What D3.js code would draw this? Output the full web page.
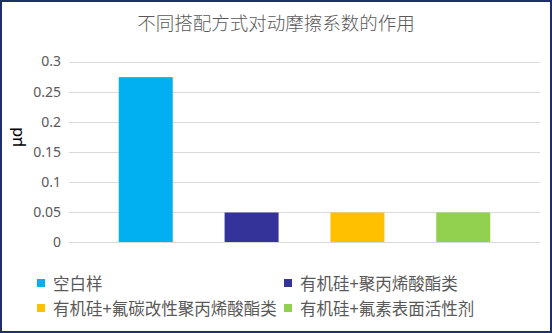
<!DOCTYPE html>
<html><head><meta charset="utf-8">
<script src="https://cdn.jsdelivr.net/npm/d3@7"></script>
<style>
html,body{margin:0;padding:0;background:#fff;}
svg{display:block;}
text{font-family:"Noto Sans CJK SC","Noto Sans",sans-serif;}
</style></head>
<body>
<svg id="c" width="552" height="333"></svg>
<script>
const categories = ["空白样","有机硅+聚丙烯酸酯类","有机硅+氟碳改性聚丙烯酸酯类","有机硅+氟素表面活性剂"];
const values = [0.274, 0.049, 0.049, 0.049];
const colors = ["#00B0F0","#333399","#FFC000","#92D050"];
const yTicks = [0, 0.05, 0.1, 0.15, 0.2, 0.25, 0.3];
const yTickLabels = ["0","0.05","0.1","0.15","0.2","0.25","0.3"];
const title = "不同搭配方式对动摩擦系数的作用";
const yLabel = "μd";

const svg = d3.select("#c");
svg.append("rect").attr("x",1).attr("y",1).attr("width",550).attr("height",331)
  .attr("fill","#fff").attr("stroke","#1F2F6E").attr("stroke-width",2);

const x = d3.scaleBand().domain(categories).range([69,540]).paddingInner(0.49).paddingOuter(0.47);
const y = d3.scaleLinear().domain([0,0.3]).range([242,61.5]);

// gridlines
svg.append("g").selectAll("line").data(yTicks).join("line")
  .attr("x1",69).attr("x2",540)
  .attr("y1",d=>Math.round(y(d))+0.5).attr("y2",d=>Math.round(y(d))+0.5)
  .attr("stroke","#D9D9D9").attr("stroke-width",1);

// y axis labels
const yAxis = d3.axisLeft(y).tickValues(yTicks).tickSize(0).tickPadding(0)
  .tickFormat((d,i)=>yTickLabels[i]);
const ga = svg.append("g").attr("transform","translate(61,0)").call(yAxis);
ga.select(".domain").remove();
ga.selectAll("text").attr("fill","#595959").style("font-size","14px")
  .style("font-family","'Noto Sans',sans-serif");

// bars
svg.append("g").selectAll("rect").data(categories).join("rect")
  .attr("x",d=>x(d)).attr("width",x.bandwidth())
  .attr("y",(d,i)=>y(values[i])).attr("height",(d,i)=>y(0)-y(values[i]))
  .attr("fill",(d,i)=>colors[i]);

// title
svg.append("text").attr("x",276).attr("y",22).attr("text-anchor","middle")
  .attr("dominant-baseline","central").attr("fill","#595959")
  .style("font-size","18.5px").style("font-weight","300").text(title);

// y label
svg.append("text").attr("transform","translate(16,137) rotate(-90)")
  .attr("text-anchor","middle").attr("dominant-baseline","central")
  .attr("fill","#000").style("font-size","16px")
  .style("font-family","'Noto Sans',sans-serif").text(yLabel);

// legend
const legPos = [[37,283],[284,283],[37,308],[284,308]];
const lg = svg.append("g").selectAll("g").data(categories).join("g")
  .attr("transform",(d,i)=>`translate(${legPos[i][0]},${legPos[i][1]})`);
lg.append("rect").attr("x",0).attr("y",-4).attr("width",8).attr("height",8)
  .attr("fill",(d,i)=>colors[i]);
lg.append("text").attr("x",16).attr("y",0).attr("dominant-baseline","central")
  .attr("fill","#595959").style("font-size","16.5px").text(d=>d);
</script>
</body></html>
